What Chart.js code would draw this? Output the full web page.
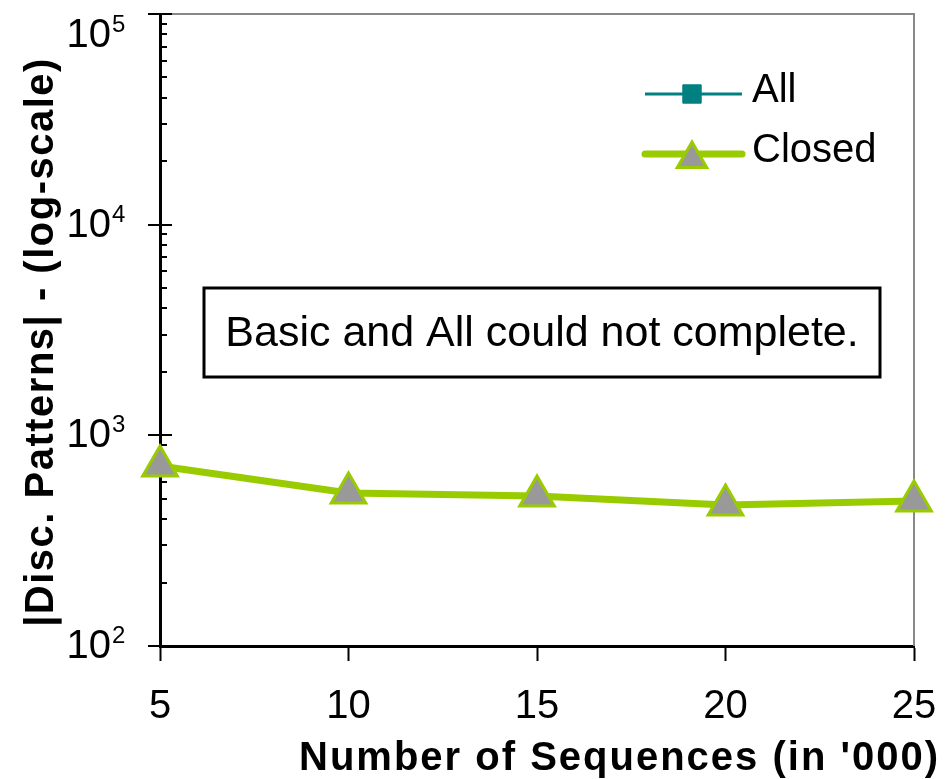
<!DOCTYPE html>
<html>
<head>
<meta charset="utf-8">
<script src="https://cdn.jsdelivr.net/npm/chart.js@4.4.0/dist/chart.umd.min.js"></script>
<style>
  html, body { margin: 0; padding: 0; background: #fff; overflow: hidden; }
  #wrap { width: 947px; height: 779px; position: relative; }
  canvas { display: block; }
</style>
</head>
<body>
<div id="wrap"><canvas id="chart"></canvas></div>
<script>
const sequences = ["5", "10", "15", "20", "25"];
const allPatterns = [null, null, null, null, null];
const closedPatterns = [715, 532, 515, 467, 488];
const yDecades = [100, 1000, 10000, 100000];
const yExponents = ["2", "3", "4", "5"];
const xTitle = "Number of Sequences (in '000)";
const yTitle = "|Disc. Patterns| - (log-scale)";
const note = "Basic and All could not complete.";

const FONT = "'Liberation Sans', Arial, sans-serif";

// grey frame, y tick marks, labels, titles, note box and legend
const decor = {
  id: "decor",
  beforeDatasetsDraw(chart) {
    const { ctx, chartArea: a } = chart;
    const y = chart.scales.y;
    ctx.save();
    ctx.strokeStyle = "#888";
    ctx.lineWidth = 2;
    ctx.beginPath();
    ctx.moveTo(a.left, a.top);
    ctx.lineTo(a.right, a.top);
    ctx.lineTo(a.right, a.bottom);
    ctx.stroke();

    ctx.strokeStyle = "#000";
    ctx.lineWidth = 2;
    yDecades.forEach((d, i) => {
      const py = Math.round(y.getPixelForValue(d));
      ctx.beginPath();
      ctx.moveTo(a.left - 12, py);
      ctx.lineTo(a.left + 12, py);
      ctx.stroke();
      if (i < yDecades.length - 1) {
        for (let k = 2; k <= 9; k++) {
          const my = Math.round(y.getPixelForValue(k * d));
          ctx.beginPath();
          ctx.moveTo(a.left, my);
          ctx.lineTo(a.left + 7, my);
          ctx.stroke();
        }
      }
    });

    // y tick labels 10^n
    ctx.fillStyle = "#000";
    yDecades.forEach((d, i) => {
      const py = Math.max(y.getPixelForValue(d), 35);
      ctx.font = "40px " + FONT;
      ctx.textAlign = "right";
      ctx.textBaseline = "middle";
      ctx.fillText("10", a.left - 49, py + 1);
      ctx.font = "24px " + FONT;
      ctx.textAlign = "left";
      ctx.textBaseline = "alphabetic";
      ctx.fillText(yExponents[i], a.left - 48, py - 3);
    });

    // axis titles
    ctx.font = "bold 40px " + FONT;
    ctx.letterSpacing = "2px";
    ctx.textAlign = "right";
    ctx.textBaseline = "alphabetic";
    ctx.fillText(xTitle, a.right + 26, 770);

    ctx.save();
    ctx.translate(42, 342);
    ctx.rotate(-Math.PI / 2);
    ctx.textAlign = "center";
    ctx.textBaseline = "middle";
    ctx.letterSpacing = "1.5px";
    ctx.fillText(yTitle, 0, 0);
    ctx.restore();
    ctx.letterSpacing = "0px";

    // note box
    ctx.lineWidth = 3;
    ctx.strokeStyle = "#000";
    ctx.strokeRect(204, 288, 676, 89);
    ctx.font = "43px " + FONT;
    ctx.textAlign = "center";
    ctx.textBaseline = "middle";
    ctx.fillText(note, 542, 334);
    ctx.restore();
  },
  afterDraw(chart) {
    const { ctx } = chart;
    ctx.save();
    chart.data.datasets.forEach((ds, i) => {
      const ly = 94 + i * 60;
      ctx.strokeStyle = ds.borderColor;
      ctx.lineWidth = ds.borderWidth;
      ctx.lineCap = i === 1 ? "round" : "butt";
      ctx.beginPath();
      ctx.moveTo(645, ly);
      ctx.lineTo(742, ly);
      ctx.stroke();
      ctx.fillStyle = ds.pointBackgroundColor;
      ctx.strokeStyle = ds.pointBorderColor;
      ctx.lineWidth = ds.pointBorderWidth;
      Chart.helpers.drawPoint(ctx, {
        pointStyle: ds.pointStyle,
        radius: ds.pointStyle === "triangle" ? 17 : 13,
        borderWidth: ds.pointBorderWidth,
        rotation: 0
      }, 692, ds.pointStyle === "triangle" ? ly + 5 : ly);
      ctx.fillStyle = "#000";
      ctx.font = "40px " + FONT;
      ctx.textAlign = "left";
      ctx.textBaseline = "middle";
      ctx.fillText(ds.label, 752, ly - 3);
    });
    ctx.restore();
  }
};

new Chart(document.getElementById("chart"), {
  type: "line",
  data: {
    labels: sequences,
    datasets: [
      {
        label: "All",
        data: allPatterns,
        borderColor: "#008080",
        borderWidth: 3,
        pointStyle: "rect",
        pointRadius: 13,
        pointBackgroundColor: "#008080",
        pointBorderColor: "#008080",
        pointBorderWidth: 1,
        clip: false
      },
      {
        label: "Closed",
        data: closedPatterns,
        borderColor: "#99CC00",
        borderWidth: 7,
        pointStyle: "triangle",
        pointRadius: 20,
        pointHoverRadius: 20,
        pointBackgroundColor: "#999999",
        pointBorderColor: "#99CC00",
        pointBorderWidth: 3,
        clip: false
      }
    ]
  },
  options: {
    responsive: true,
    maintainAspectRatio: false,
    animation: false,
    devicePixelRatio: 1,
    layout: { autoPadding: false, padding: { top: 14, right: 33, left: 0, bottom: 0 } },
    plugins: {
      legend: { display: false },
      tooltip: { enabled: false }
    },
    scales: {
      x: {
        type: "category",
        offset: false,
        afterFit: s => { s.height = 133; s.paddingLeft = 0; s.paddingRight = 0; },
        grid: {
          drawOnChartArea: false,
          tickLength: 15,
          tickColor: "#000",
          tickWidth: 2
        },
        border: { display: true, color: "#000", width: 3 },
        ticks: {
          color: "#000",
          font: { family: FONT, size: 40 },
          padding: 22,
          maxRotation: 0
        }
      },
      y: {
        type: "logarithmic",
        min: 100,
        max: 100000,
        afterFit: s => { s.width = 160; },
        grid: { display: false },
        border: { display: true, color: "#000", width: 3 },
        ticks: { display: false }
      }
    }
  },
  plugins: [decor]
});
</script>
</body>
</html>
